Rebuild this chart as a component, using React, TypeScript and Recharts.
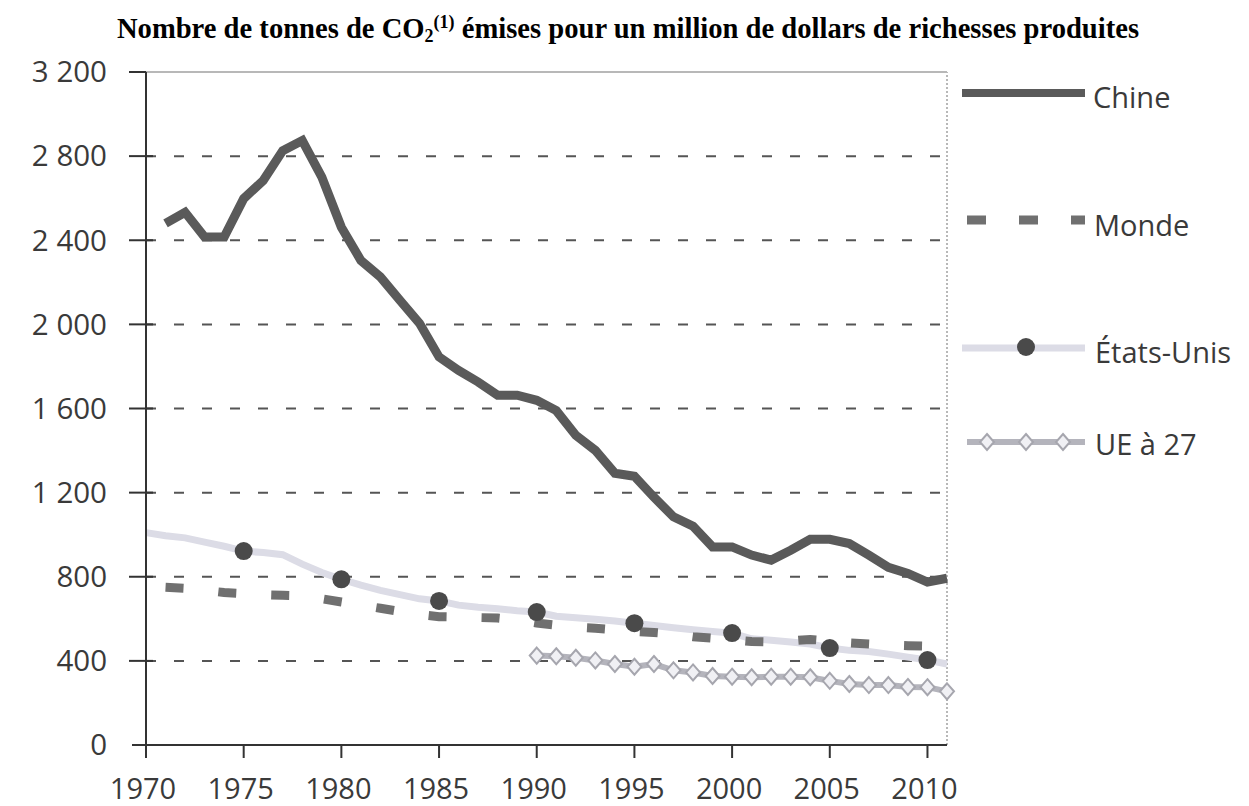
import React from 'react'
import { LineChart, Line, XAxis, YAxis, ReferenceLine } from 'recharts'

const years = [
  1970, 1971, 1972, 1973, 1974, 1975, 1976, 1977, 1978, 1979, 1980, 1981, 1982, 1983,
  1984, 1985, 1986, 1987, 1988, 1989, 1990, 1991, 1992, 1993, 1994, 1995, 1996, 1997,
  1998, 1999, 2000, 2001, 2002, 2003, 2004, 2005, 2006, 2007, 2008, 2009, 2010, 2011
]

// 1970 -> 2011
const chine = [
  null, 2480, 2533, 2415, 2415, 2598, 2684, 2826, 2874, 2700, 2462, 2304, 2225, 2114,
  2005, 1845, 1781, 1726, 1663, 1663, 1639, 1590, 1473, 1401, 1292, 1278, 1178, 1085,
  1040, 942, 942, 903, 879, 926, 978, 978, 958, 903, 845, 816, 775, 793
]

const monde = [
  null, 750, 745, 735, 725, 720, 715, 712, 710, 695, 680, 665, 650, 635,
  620, 610, 608, 606, 604, 595, 580, 570, 560, 555, 548, 540, 535, 528,
  515, 508, 500, 492, 490, 495, 502, 495, 485, 480, 475, 472, 470, 468
]

const etatsUnis = [
  1010, 995, 985, 965, 945, 922, 915, 905, 860, 820, 788, 760, 735, 715,
  695, 685, 665, 655, 648, 638, 632, 612, 605, 598, 590, 579, 568, 558,
  548, 540, 532, 505, 498, 490, 480, 461, 450, 445, 432, 418, 404, 385
]

const ue27 = [
  null, null, null, null, null, null, null, null, null, null, null, null, null, null,
  null, null, null, null, null, null, 425, 422, 415, 402, 385, 372, 385, 355,
  345, 328, 325, 322, 325, 325, 322, 305, 290, 285, 285, 276, 275, 255
]

const xTicks = [1970, 1975, 1980, 1985, 1990, 1995, 2000, 2005, 2010]
const yTicks = [0, 400, 800, 1200, 1600, 2000, 2400, 2800, 3200]
const gridValues = [400, 800, 1200, 1600, 2000, 2400, 2800]

const data = years.map((year, i) => ({
  year,
  chine: chine[i],
  monde: monde[i],
  etatsUnis: etatsUnis[i],
  ue27: ue27[i]
}))

const FONT = '"Open Sans", "DejaVu Sans", sans-serif'
const TEXT = '#3a3a3a'
const AXIS = '#333'
const Y_MARGIN = 39

const fmt = (v: number) => (v >= 1000 ? `${Math.floor(v / 1000)} ${String(v % 1000).padStart(3, '0')}` : `${v}`)

const YTick = (props: any) => {
  const { x, y, payload } = props
  const ax = x + Y_MARGIN
  const v = payload.value
  let x1 = ax - 17
  let x2 = ax + 7
  if (v === 0) { x1 = ax - 14; x2 = ax }
  if (v === 3200) x2 = ax
  return (
    <g>
      <line x1={x1} x2={x2} y1={y} y2={y} stroke={AXIS} strokeWidth={2} />
      <text x={x} y={y} dy="0.35em" textAnchor="end" fontFamily={FONT} fontSize={29.5} fill={TEXT}>
        {fmt(v)}
      </text>
    </g>
  )
}

const XTick = (props: any) => {
  const { x, y, payload } = props
  return (
    <text x={x - 3} y={y} dy="0.71em" textAnchor="middle" fontFamily={FONT} fontSize={29} fill={TEXT}>
      {payload.value}
    </text>
  )
}

const UsDot = (props: any) => {
  const { cx, cy, payload, index } = props
  if (payload.year % 5 !== 0 || payload.year === 1970) return <g key={`us-${index}`} />
  return <circle key={`us-${index}`} cx={cx} cy={cy} r={9} fill="#4a4a4a" />
}

const diamond = (cx: number, cy: number) =>
  `${cx},${cy - 8} ${cx + 7},${cy} ${cx},${cy + 8} ${cx - 7},${cy}`

const UeDot = (props: any) => {
  const { cx, cy, index, value } = props
  if (value == null) return <g key={`ue-${index}`} />
  return (
    <polygon key={`ue-${index}`} points={diamond(cx, cy)} fill="#f0f0f4" stroke="#a6a6ae" strokeWidth={2} />
  )
}

// legend drawn beside the plot, like the original
const LegendBox = () => (
  <svg width={299} height={420} style={{ position: 'absolute', left: 950, top: 60 }}>
    <g fontFamily={FONT} fontSize={29} fill={TEXT}>
      <line x1={12} x2={135} y1={33} y2={33} stroke="#5a5a5a" strokeWidth={8} />
      <text x={143} y={48}>Chine</text>

      <line x1={17} x2={135} y1={160} y2={160} stroke="#707070" strokeWidth={9} strokeDasharray="19 33" />
      <text x={144} y={176}>Monde</text>

      <line x1={12} x2={135} y1={288} y2={288} stroke="#dcdce6" strokeWidth={7} />
      <circle cx={76} cy={287} r={9} fill="#4a4a4a" />
      <text x={145} y={303}>États-Unis</text>

      <line x1={17} x2={135} y1={382} y2={382} stroke="#b4b4bc" strokeWidth={6} />
      {[37, 76, 113].map((cx) => (
        <polygon key={cx} points={diamond(cx, 382)} fill="#f0f0f4" stroke="#a6a6ae" strokeWidth={2} />
      ))}
      <text x={145} y={395}>UE à 27</text>
    </g>
  </svg>
)

export default function App() {
  return (
    <div style={{ position: 'absolute', left: 0, top: 0, width: 1249, height: 806, background: '#fff' }}>
      <div
        style={{
          position: 'absolute',
          left: 0,
          top: 6,
          width: 1256,
          textAlign: 'center',
          fontFamily: '"Liberation Serif", "Times New Roman", serif',
          fontWeight: 'bold',
          fontSize: 28.6,
          lineHeight: '32px',
          color: '#000'
        }}
      >
        Nombre de tonnes de CO<sub style={{ fontSize: 18, verticalAlign: '-4px' }}>2</sub>
        <sup style={{ fontSize: 18, verticalAlign: '10px' }}>(1)</sup> émises pour un million de dollars de richesses produites
      </div>
      <LineChart
        width={1249}
        height={806}
        data={data}
        margin={{ top: 72, right: 302, bottom: 0, left: 0 }}
      >
        <XAxis
          dataKey="year"
          type="number"
          domain={[1970, 2011]}
          ticks={xTicks}
          height={61}
          tickSize={13}
          tickMargin={20}
          tick={<XTick />}
          tickLine={{ stroke: AXIS, strokeWidth: 2 }}
          axisLine={{ stroke: AXIS, strokeWidth: 2 }}
        />
        <YAxis
          type="number"
          domain={[0, 3200]}
          ticks={yTicks}
          width={146}
          tickSize={0}
          tickMargin={Y_MARGIN}
          tick={<YTick />}
          tickLine={false}
          axisLine={{ stroke: AXIS, strokeWidth: 2 }}
        />
        <ReferenceLine y={3200} stroke="#b8b8b8" strokeWidth={2} />
        <ReferenceLine x={2011} stroke="#b8b8b8" strokeWidth={2} strokeDasharray="2 2" />
        {gridValues.map((v) => (
          <ReferenceLine key={v} y={v} stroke="#555" strokeWidth={2} strokeDasharray="10 18" />
        ))}
        <Line
          dataKey="etatsUnis"
          stroke="#dcdce6"
          strokeWidth={7}
          dot={<UsDot />}
          activeDot={false}
          isAnimationActive={false}
          legendType="none"
        />
        <Line
          dataKey="monde"
          stroke="#707070"
          strokeWidth={9}
          strokeDasharray="18 35"
          dot={false}
          activeDot={false}
          isAnimationActive={false}
          legendType="none"
        />
        <Line
          dataKey="ue27"
          stroke="#b4b4bc"
          strokeWidth={6}
          dot={<UeDot />}
          activeDot={false}
          isAnimationActive={false}
          legendType="none"
        />
        <Line
          dataKey="chine"
          stroke="#5a5a5a"
          strokeWidth={9}
          dot={false}
          activeDot={false}
          isAnimationActive={false}
          legendType="none"
        />
      </LineChart>
      <LegendBox />
    </div>
  )
}
